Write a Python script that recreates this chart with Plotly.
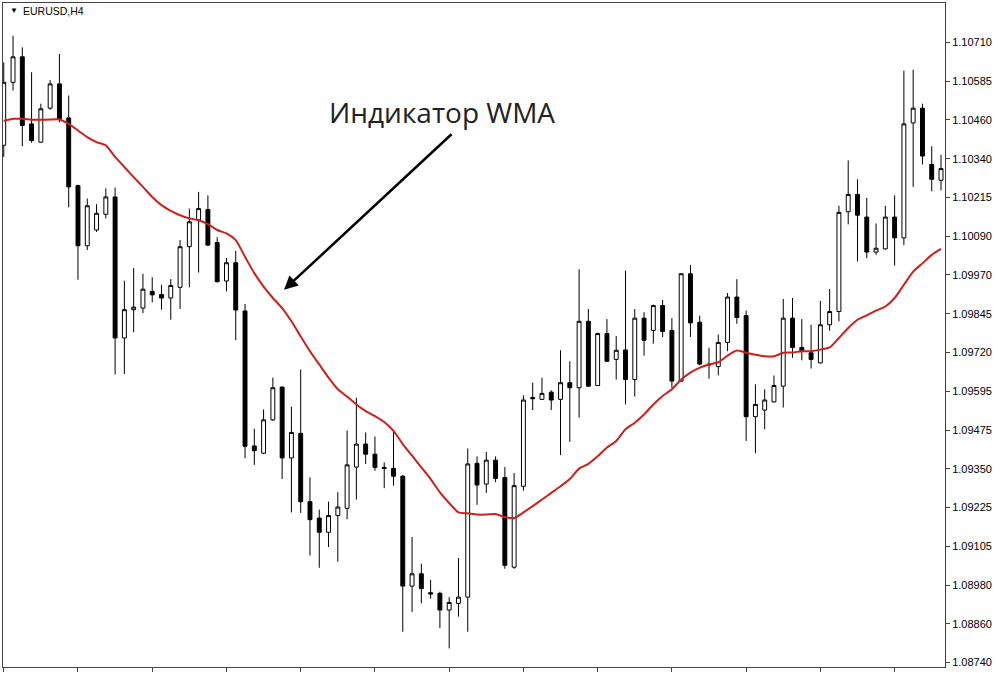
import numpy as np
import plotly.graph_objects as go

# EURUSD H4 candles
opens = [1.10383, 1.10583, 1.10664, 1.10451, 1.10393, 1.10501, 1.10578, 1.10470, 1.10255, 1.10064,
         1.10114, 1.10164, 1.10219, 1.09771, 1.09861, 1.09866, 1.09919, 1.09909, 1.09898, 1.09932,
         1.10061, 1.10146, 1.10179, 1.10074, 1.09952, 1.10010, 1.09857, 1.09428, 1.09405, 1.09511,
         1.09615, 1.09390, 1.09468, 1.09251, 1.09199, 1.09154, 1.09207, 1.09230, 1.09361, 1.09434,
         1.09402, 1.09360, 1.09357, 1.09332, 1.08983, 1.09022, 1.08962, 1.08960, 1.08907, 1.08928,
         1.08948, 1.09373, 1.09307, 1.09383, 1.09328, 1.09043, 1.09300, 1.09582, 1.09576, 1.09599,
         1.09576, 1.09629, 1.09613, 1.09824, 1.09620, 1.09785, 1.09703, 1.09733, 1.09639, 1.09834,
         1.09795, 1.09874, 1.09795, 1.09634, 1.09975, 1.09821, 1.09688, 1.09680, 1.09757, 1.09901,
         1.09842, 1.09521, 1.09542, 1.09568, 1.09618, 1.09834, 1.09741, 1.09724, 1.09692, 1.09813,
         1.09855, 1.10172, 1.10227, 1.10155, 1.10044, 1.10054, 1.10155, 1.10089, 1.10454, 1.10501,
         1.10322, 1.10272]

highs = [1.10646, 1.10731, 1.10694, 1.10615, 1.10515, 1.10590, 1.10673, 1.10541, 1.10258, 1.10214,
         1.10196, 1.10246, 1.10249, 1.09953, 1.09993, 1.09975, 1.09964, 1.09940, 1.09958, 1.10082,
         1.10182, 1.10235, 1.10224, 1.10091, 1.10025, 1.10048, 1.09879, 1.09483, 1.09544, 1.09645,
         1.09617, 1.09553, 1.09671, 1.09328, 1.09226, 1.09251, 1.09281, 1.09477, 1.09581, 1.09471,
         1.09458, 1.09376, 1.09473, 1.09336, 1.09139, 1.09054, 1.09003, 1.08965, 1.08948, 1.09072,
         1.09420, 1.09395, 1.09409, 1.09395, 1.09361, 1.09342, 1.09589, 1.09629, 1.09645, 1.09605,
         1.09732, 1.09697, 1.09989, 1.09863, 1.09788, 1.09831, 1.09777, 1.09985, 1.09863, 1.09853,
         1.09877, 1.09892, 1.09834, 1.09977, 1.10003, 1.09842, 1.09740, 1.09782, 1.09914, 1.09958,
         1.09858, 1.09624, 1.09608, 1.09652, 1.09895, 1.09898, 1.09831, 1.09813, 1.09889, 1.09927,
         1.10191, 1.10335, 1.10275, 1.10216, 1.10135, 1.10191, 1.10224, 1.10620, 1.10623, 1.10515,
         1.10380, 1.10353]

lows = [1.10346, 1.10557, 1.10380, 1.10391, 1.10391, 1.10496, 1.10456, 1.10186, 1.09956, 1.10050,
        1.10108, 1.10151, 1.09655, 1.09657, 1.09789, 1.09850, 1.09884, 1.09861, 1.09829, 1.09863,
        1.09932, 1.09979, 1.10063, 1.09947, 1.09919, 1.09764, 1.09389, 1.09368, 1.09402, 1.09508,
        1.09323, 1.09217, 1.09215, 1.09080, 1.09041, 1.09107, 1.09060, 1.09195, 1.09258, 1.09371,
        1.09349, 1.09294, 1.09302, 1.08838, 1.08901, 1.08928, 1.08943, 1.08849, 1.08785, 1.08886,
        1.08838, 1.09241, 1.09279, 1.09313, 1.09038, 1.09038, 1.09286, 1.09542, 1.09574, 1.09542,
        1.09399, 1.09441, 1.09518, 1.09616, 1.09618, 1.09695, 1.09639, 1.09560, 1.09585, 1.09715,
        1.09753, 1.09774, 1.09613, 1.09632, 1.09774, 1.09684, 1.09642, 1.09652, 1.09729, 1.09816,
        1.09444, 1.09405, 1.09481, 1.09566, 1.09550, 1.09708, 1.09700, 1.09674, 1.09690, 1.09794,
        1.09824, 1.10132, 1.10014, 1.10024, 1.10035, 1.10052, 1.10001, 1.10066, 1.10251, 1.10322,
        1.10237, 1.10240]

closes = [1.10583, 1.10664, 1.10446, 1.10398, 1.10499, 1.10578, 1.10467, 1.10251, 1.10064, 1.10191,
          1.10167, 1.10219, 1.09771, 1.09861, 1.09869, 1.09926, 1.09908, 1.09898, 1.09938, 1.10061,
          1.10140, 1.10182, 1.10066, 1.09950, 1.10010, 1.09860, 1.09427, 1.09413, 1.09511, 1.09613,
          1.09390, 1.09471, 1.09251, 1.09194, 1.09154, 1.09207, 1.09234, 1.09368, 1.09434, 1.09402,
          1.09360, 1.09357, 1.09332, 1.08983, 1.09022, 1.08975, 1.08958, 1.08907, 1.08931, 1.08948,
          1.09371, 1.09304, 1.09383, 1.09325, 1.09049, 1.09302, 1.09574, 1.09578, 1.09595, 1.09574,
          1.09629, 1.09613, 1.09824, 1.09618, 1.09785, 1.09697, 1.09732, 1.09639, 1.09834, 1.09764,
          1.09874, 1.09792, 1.09634, 1.09975, 1.09819, 1.09688, 1.09686, 1.09757, 1.09901, 1.09836,
          1.09521, 1.09560, 1.09574, 1.09620, 1.09834, 1.09741, 1.09729, 1.09703, 1.09813, 1.09855,
          1.10170, 1.10227, 1.10161, 1.10044, 1.10056, 1.10155, 1.10089, 1.10451, 1.10501, 1.10349,
          1.10275, 1.10309]

# weighted moving average (red line)
wma = [1.10460, 1.10467, 1.10467, 1.10464, 1.10464, 1.10465, 1.10465, 1.10451, 1.10430, 1.10409,
       1.10393, 1.10383, 1.10346, 1.10314, 1.10282, 1.10251, 1.10219, 1.10193, 1.10175, 1.10161,
       1.10151, 1.10145, 1.10133, 1.10114, 1.10103, 1.10082, 1.10029, 1.09977, 1.09934, 1.09898,
       1.09866, 1.09824, 1.09776, 1.09729, 1.09687, 1.09645, 1.09608, 1.09585, 1.09560, 1.09539,
       1.09523, 1.09504, 1.09476, 1.09434, 1.09397, 1.09360, 1.09323, 1.09281, 1.09247, 1.09217,
       1.09214, 1.09210, 1.09210, 1.09212, 1.09202, 1.09199, 1.09217, 1.09237, 1.09258, 1.09279,
       1.09300, 1.09323, 1.09356, 1.09371, 1.09395, 1.09423, 1.09444, 1.09481, 1.09502, 1.09528,
       1.09560, 1.09587, 1.09608, 1.09639, 1.09661, 1.09677, 1.09687, 1.09694, 1.09715, 1.09731,
       1.09724, 1.09718, 1.09713, 1.09713, 1.09724, 1.09725, 1.09729, 1.09729, 1.09734, 1.09741,
       1.09771, 1.09803, 1.09829, 1.09843, 1.09858, 1.09871, 1.09898, 1.09940, 1.09982, 1.10008,
       1.10035, 1.10054]

price_labels = ["1.08740", "1.08860", "1.08980", "1.09105", "1.09225", "1.09350", "1.09475",
                "1.09595", "1.09720", "1.09845", "1.09970", "1.10090", "1.10215", "1.10340",
                "1.10460", "1.10585", "1.10710"]

bars = list(range(len(opens)))
# MT4 rounds its labels, the grid itself is evenly spaced
price_ticks = np.linspace(float(price_labels[0]), float(price_labels[-1]), len(price_labels))

fig = go.Figure()

fig.add_trace(go.Candlestick(
    x=bars, open=opens, high=highs, low=lows, close=closes,
    increasing=dict(line=dict(color="black", width=1), fillcolor="white"),
    decreasing=dict(line=dict(color="black", width=1), fillcolor="black"),
    whiskerwidth=0,
    showlegend=False,
))

fig.add_trace(go.Scatter(
    x=bars, y=wma, mode="lines",
    line=dict(color="#d01f1a", width=2, shape="spline", smoothing=0.6),
    showlegend=False,
))

fig.update_layout(
    width=1000, height=673,
    margin=dict(l=2, r=55, t=2, b=4),
    paper_bgcolor="white", plot_bgcolor="white",
    boxgap=0.4,
    font=dict(family="Liberation Sans", color="black"),
    xaxis=dict(
        range=[-0.08, 101.43], rangeslider=dict(visible=False),
        showgrid=False, zeroline=False,
        showline=True, linecolor="#444", linewidth=1, mirror=True,
        tickmode="array", tickvals=bars[::8], ticks="outside", ticklen=4,
        tickcolor="#444", showticklabels=False,
    ),
    yaxis=dict(
        range=[1.08726, 1.10835], side="right",
        showgrid=False, zeroline=False,
        showline=True, linecolor="#444", linewidth=1, mirror=True,
        tickmode="array", tickvals=price_ticks, ticktext=price_labels,
        ticks="outside", ticklen=4, tickcolor="#444",
        tickfont=dict(family="Liberation Sans", size=11, color="black"),
    ),
)

# symbol caption top-left
fig.add_annotation(xref="paper", yref="paper", x=0.005, y=0.989, xanchor="left", yanchor="middle",
                   text="▼", showarrow=False, font=dict(size=8, color="black"))
fig.add_annotation(xref="paper", yref="paper", x=0.019, y=0.988, xanchor="left", yanchor="middle",
                   text="EURUSD,H4", showarrow=False,
                   font=dict(family="Liberation Sans", size=10.5, color="black"))

# indicator label with arrow
fig.add_annotation(xref="paper", yref="paper", x=0.4655, y=0.8365, xanchor="center", yanchor="middle",
                   text="Индикатор WMA", showarrow=False,
                   font=dict(family="Open Sans", size=28, color="#222"))
fig.add_annotation(xref="paper", yref="paper", x=0.2983, y=0.568, text="",
                   showarrow=True, ax=169, ay=-157, arrowhead=2, arrowsize=1.1,
                   arrowwidth=2.5, arrowcolor="black")

# drop the browser's default page margin so the chart sits at 0,0
fig.write_html("out.html", config={"displayModeBar": False},
               post_script="document.body.style.margin='0';")
